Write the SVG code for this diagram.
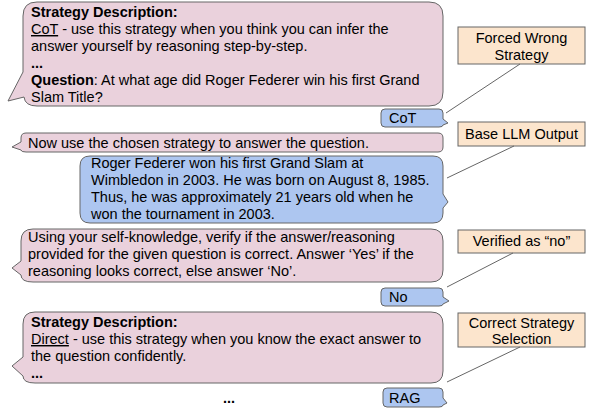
<svg xmlns="http://www.w3.org/2000/svg" width="589" height="412" viewBox="0 0 589 412">
<style>
.pink{fill:#ead1dc;stroke:#666;stroke-width:1}
.blue{fill:#adc6f0;stroke:#666;stroke-width:1}
.orange{fill:#fce5cd;stroke:#666;stroke-width:1}
text{font-family:"Liberation Sans",Arial,sans-serif;font-size:14.5px;fill:#000}
.b{font-weight:bold}
.u{text-decoration:underline}
.c{text-anchor:middle}
.conn line{stroke:#666;stroke-width:1}
</style>
<rect width="589" height="412" fill="#fff"/>
<g id="prompt1">
<path class="pink" d="M37,2 H429 Q443,2 443,16 V92 Q443,106 429,106 H37 Q25,106 24,97 L8,101 L23,72 V16 Q23,2 37,2 Z"/>
<text x="31" y="17" class="b">Strategy Description:</text>
<text x="31" y="34"><tspan class="u">CoT</tspan> - use this strategy when you think you can infer the</text>
<text x="31" y="51">answer yourself by reasoning step-by-step.</text>
<text x="31" y="68" class="b">...</text>
<text x="31" y="85"><tspan class="b">Question</tspan>: At what age did Roger Federer win his first Grand</text>
<text x="31" y="102">Slam Title?</text>
</g>
<g id="cot">
<path class="blue" d="M385,109 H439 Q443,109 443,113 V119 L448,123 L443,125 Q443,127 439,127 H385 Q381,127 381,123 V113 Q381,109 385,109 Z"/>
<text x="389" y="123">CoT</text>
</g>
<g id="prompt2">
<path class="pink" d="M26,133 H438 Q443,133 443,138 V147 Q443,152 438,152 H26 Q21,152 21,150 L12,147 L21,142 V138 Q21,133 26,133 Z"/>
<text x="28" y="148">Now use the chosen strategy to answer the question.</text>
</g>
<g id="answer">
<path class="blue" d="M90,156 H433 Q443,156 443,166 V194 L448,202 L443,208 V213 Q443,223 433,223 H90 Q80,223 80,213 V166 Q80,156 90,156 Z"/>
<text x="91" y="168">Roger Federer won his first Grand Slam at</text>
<text x="91" y="185">Wimbledon in 2003. He was born on August 8, 1985.</text>
<text x="91" y="202">Thus, he was approximately 21 years old when he</text>
<text x="91" y="219">won the tournament in 2003.</text>
</g>
<g id="prompt3">
<path class="pink" d="M33,229 H431 Q443,229 443,241 V270 Q443,282 431,282 H33 Q21,282 21,275 L12,268 L21,261 V241 Q21,229 33,229 Z"/>
<text x="28" y="242">Using your self-knowledge, verify if the answer/reasoning</text>
<text x="28" y="259">provided for the given question is correct. Answer ‘Yes’ if the</text>
<text x="28" y="276">reasoning looks correct, else answer ‘No’.</text>
</g>
<g id="no">
<path class="blue" d="M385,288 H439 Q443,288 443,292 V297 L449,301 L443,304 Q443,306 439,306 H385 Q381,306 381,302 V292 Q381,288 385,288 Z"/>
<text x="389" y="302">No</text>
</g>
<g id="prompt4">
<path class="pink" d="M35,312 H431 Q443,312 443,324 V371 Q443,383 431,383 H35 Q23,383 23,376 L12,366 L23,357 V324 Q23,312 35,312 Z"/>
<text x="31" y="327" class="b">Strategy Description:</text>
<text x="31" y="344"><tspan class="u">Direct</tspan> - use this strategy when you know the exact answer to</text>
<text x="31" y="361">the question confidently.</text>
<text x="31" y="378" class="b">...</text>
</g>
<g id="ellipsis">
<text x="229" y="403" class="b c">...</text>
</g>
<g id="rag">
<path class="blue" d="M387,388 H439 Q443,388 443,392 V398 L447,403 L443,405 Q443,407 439,407 H387 Q383,407 383,403 V392 Q383,388 387,388 Z"/>
<text x="389" y="403">RAG</text>
</g>
<g id="label-forced">
<rect class="orange" x="458" y="27" width="127" height="37"/>
<text x="521.5" y="43" class="c">Forced Wrong</text>
<text x="521.5" y="60" class="c">Strategy</text>
</g>
<g id="label-base">
<rect class="orange" x="458" y="122" width="127" height="24"/>
<text x="521.5" y="139" class="c">Base LLM Output</text>
</g>
<g id="label-verified">
<rect class="orange" x="458" y="230" width="127" height="23"/>
<text x="521.5" y="246" class="c">Verified as “no”</text>
</g>
<g id="label-correct">
<rect class="orange" x="458" y="313" width="127" height="34"/>
<text x="521.5" y="328" class="c">Correct Strategy</text>
<text x="521.5" y="344" class="c">Selection</text>
</g>
<g class="conn" id="connectors">
<line x1="520" y1="64" x2="446" y2="113"/>
<line x1="514" y1="146" x2="447" y2="178"/>
<line x1="513" y1="253" x2="447" y2="287"/>
<line x1="520" y1="347" x2="447" y2="382"/>
</g>
</svg>
